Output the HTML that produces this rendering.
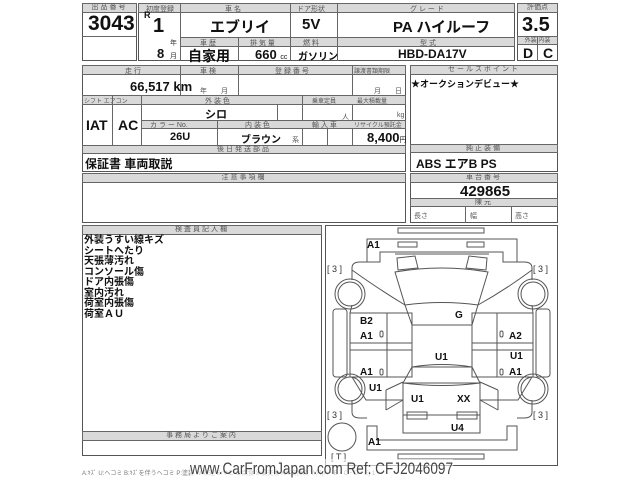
<!DOCTYPE html>
<html><head><meta charset="utf-8"><style>
body{margin:0;width:640px;height:480px;background:#fff;position:relative;overflow:hidden;font-family:"Liberation Sans","Noto Sans CJK JP",sans-serif;color:#111}
.b{position:absolute;border:1px solid #555;box-sizing:border-box}
.h{position:absolute;background:#d9d9d9;border:1px solid #666;box-sizing:border-box;font-size:7px;color:#555;text-align:center;line-height:8px;letter-spacing:2px}
.t{position:absolute;font-weight:bold;white-space:nowrap}
.l{position:absolute;background:#666}
.s{position:absolute;font-size:7px;color:#555}
</style></head><body>
<!-- top block -->
<div class="b" style="left:82px;top:3px;width:55px;height:58px"></div>
<div class="h" style="left:82px;top:3px;width:55px;height:10px">出品番号</div>
<div class="l" style="left:82px;top:36px;width:55px;height:1px"></div>
<div class="t" style="left:88px;top:12px;font-size:21px">3043</div>

<div class="b" style="left:138px;top:3px;width:377px;height:58px"></div>
<div class="h" style="left:138px;top:3px;width:377px;height:10px"></div>
<div class="s" style="left:146px;top:4px">初度登録</div>
<div class="s" style="left:225px;top:4px">車 名</div>
<div class="s" style="left:297px;top:4px">ドア形状</div>
<div class="s" style="left:410px;top:4px">グ レ ー ド</div>
<div class="h" style="left:180px;top:37px;width:335px;height:10px"></div>
<div class="s" style="left:200px;top:38px">車 歴</div>
<div class="s" style="left:250px;top:38px">排 気 量</div>
<div class="s" style="left:303px;top:38px">燃 料</div>
<div class="s" style="left:420px;top:38px">型 式</div>
<div class="l" style="left:180px;top:3px;width:1px;height:58px"></div>
<div class="l" style="left:290px;top:3px;width:1px;height:58px"></div>
<div class="l" style="left:337px;top:3px;width:1px;height:58px"></div>
<div class="l" style="left:238px;top:37px;width:1px;height:24px"></div>
<div class="t" style="left:144px;top:10px;font-size:9px">R</div>
<div class="t" style="left:153px;top:15px;font-size:20px">1</div>
<div class="s" style="left:170px;top:38px;color:#333">年</div>
<div class="t" style="left:157px;top:46px;font-size:13px">8</div>
<div class="s" style="left:170px;top:51px;color:#333">月</div>
<div class="t" style="left:210px;top:16px;font-size:15px">エブリイ</div>
<div class="t" style="left:302px;top:16px;font-size:15px">5V</div>
<div class="t" style="left:393px;top:16px;font-size:15px">PA ハイルーフ</div>
<div class="t" style="left:188px;top:46px;font-size:14px">自家用</div>
<div class="t" style="left:255px;top:47px;font-size:13px">660 <span style="font-size:7px;font-weight:normal">cc</span></div>
<div class="t" style="left:298px;top:48px;font-size:10px">ガソリン</div>
<div class="t" style="left:398px;top:47px;font-size:12px">HBD-DA17V</div>

<div class="b" style="left:517px;top:3px;width:41px;height:58px"></div>
<div class="h" style="left:517px;top:3px;width:41px;height:10px;letter-spacing:0">評価点</div>
<div class="t" style="left:522px;top:14px;font-size:20px">3.5</div>
<div class="h" style="left:517px;top:36px;width:41px;height:9px;letter-spacing:0;font-size:6px">外装 内装</div>
<div class="l" style="left:537px;top:36px;width:1px;height:25px"></div>
<div class="t" style="left:523px;top:45px;font-size:14px">D</div>
<div class="t" style="left:543px;top:45px;font-size:14px">C</div>

<!-- second block -->
<div class="b" style="left:82px;top:65px;width:324px;height:107px"></div>
<div class="h" style="left:82px;top:65px;width:324px;height:10px"></div>
<div class="s" style="left:125px;top:66px">走 行</div>
<div class="s" style="left:200px;top:66px">車 検</div>
<div class="s" style="left:275px;top:66px">登 録 番 号</div>
<div class="s" style="left:354px;top:66px;font-size:6px">譲渡書類期限</div>
<div class="l" style="left:180px;top:65px;width:1px;height:31px"></div>
<div class="l" style="left:238px;top:65px;width:1px;height:31px"></div>
<div class="l" style="left:352px;top:65px;width:1px;height:80px"></div>
<div class="t" style="left:130px;top:79px;font-size:13px">66,517 km</div>
<div class="s" style="left:200px;top:86px">年　　月</div>
<div class="s" style="left:374px;top:86px">月　　日</div>
<div class="h" style="left:82px;top:95px;width:324px;height:10px"></div>
<div class="s" style="left:84px;top:96px;font-size:6px">シフト エアコン</div>
<div class="s" style="left:205px;top:96px">外 装 色</div>
<div class="s" style="left:312px;top:96px;font-size:6px">乗車定員</div>
<div class="s" style="left:357px;top:96px;font-size:6px">最大積載量</div>
<div class="l" style="left:112px;top:95px;width:1px;height:50px"></div>
<div class="l" style="left:141px;top:95px;width:1px;height:50px"></div>
<div class="l" style="left:302px;top:95px;width:1px;height:50px"></div>
<div class="l" style="left:277px;top:105px;width:1px;height:15px"></div>
<div class="t" style="left:86px;top:117px;font-size:14px">IAT</div>
<div class="t" style="left:118px;top:117px;font-size:14px">AC</div>
<div class="t" style="left:205px;top:106px;font-size:11px">シロ</div>
<div class="s" style="left:342px;top:112px">人</div>
<div class="s" style="left:397px;top:112px">kg</div>
<div class="h" style="left:141px;top:120px;width:265px;height:9px"></div>
<div class="s" style="left:150px;top:120px">カ ラ ー No.</div>
<div class="s" style="left:245px;top:120px">内 装 色</div>
<div class="s" style="left:312px;top:120px">輸 入 車</div>
<div class="s" style="left:354px;top:120px;font-size:6px">リサイクル預託金</div>
<div class="l" style="left:217px;top:120px;width:1px;height:25px"></div>
<div class="l" style="left:327px;top:129px;width:1px;height:16px"></div>
<div class="t" style="left:170px;top:131px;font-size:11px">26U</div>
<div class="t" style="left:241px;top:131px;font-size:10px">ブラウン</div>
<div class="s" style="left:292px;top:135px">系</div>
<div class="t" style="left:367px;top:130px;font-size:13px">8,400<span style="font-size:7px;font-weight:normal">円</span></div>
<div class="h" style="left:82px;top:145px;width:324px;height:9px">後日発送部品</div>
<div class="t" style="left:85px;top:155px;font-size:12px">保証書 車両取説</div>

<div class="b" style="left:410px;top:65px;width:148px;height:107px"></div>
<div class="h" style="left:410px;top:65px;width:148px;height:10px">セールスポイント</div>
<div class="t" style="left:411px;top:77px;font-size:9px">★オークションデビュー★</div>
<div class="h" style="left:410px;top:144px;width:148px;height:9px">純正装備</div>
<div class="t" style="left:416px;top:155px;font-size:12px">ABS エアB PS</div>

<!-- third -->
<div class="b" style="left:82px;top:173px;width:324px;height:50px"></div>
<div class="h" style="left:82px;top:173px;width:324px;height:10px">注意事項欄</div>
<div class="b" style="left:410px;top:173px;width:148px;height:50px"></div>
<div class="h" style="left:410px;top:173px;width:148px;height:10px">車台番号</div>
<div class="t" style="left:460px;top:183px;font-size:15px">429865</div>
<div class="h" style="left:410px;top:198px;width:148px;height:9px">陳元</div>
<div class="l" style="left:465px;top:207px;width:1px;height:16px"></div>
<div class="l" style="left:511px;top:207px;width:1px;height:16px"></div>
<div class="s" style="left:414px;top:211px">長さ</div>
<div class="s" style="left:470px;top:211px">幅</div>
<div class="s" style="left:515px;top:211px">高さ</div>

<!-- inspector -->
<div class="b" style="left:82px;top:225px;width:240px;height:231px"></div>
<div class="h" style="left:82px;top:225px;width:240px;height:10px">検査員記入欄</div>
<div class="t" style="left:84px;top:236px;font-size:10px;line-height:10.5px">外装うすい線キズ<br>シートへたり<br>天張薄汚れ<br>コンソール傷<br>ドア内張傷<br>室内汚れ<br>荷室内張傷<br>荷室ＡＵ</div>
<div class="h" style="left:82px;top:431px;width:240px;height:10px">事務局よりご案内</div>

<!-- diagram -->
<div class="b" style="left:325px;top:225px;width:233px;height:241px"></div>
<svg style="position:absolute;left:0;top:0" width="640" height="480" fill="none" stroke="#555" stroke-width="1">
<rect x="398" y="228" width="86" height="5"/>
<rect x="398" y="454" width="86" height="5"/>
<path d="M367 239H517V262H503V252H380V262H367Z"/>
<rect x="398" y="242" width="19" height="5"/><rect x="467" y="242" width="17" height="5"/>
<path d="M395 254L489 254M397 258L415 256L418 268L398 270ZM487 258L469 256L466 268L486 270Z"/>
<path d="M395 272Q442 264 488 272L478 305Q442 300 405 305Z"/>
<path d="M405 305L412 325M478 305L472 325"/>
<rect x="412" y="325" width="60" height="42"/>
<path d="M412 367Q442 362 472 367L480 383H403Z"/>
<path d="M403 383Q442 388 480 383V433H403Z"/>
<path d="M403 415H480M407 412h20v7h-20zM457 412h20v7h-20z"/>
<path d="M367 426H377V440H507V426H517V450H367Z"/>
<path d="M350 313H412V377H350ZM472 313H533V377H472Z"/>
<path d="M350 343H412M350 350H412M472 343H533M472 350H533M387 313V377M497 313V377"/>
<path d="M352 268Q352 262 360 262H367M532 268Q532 262 524 262H517M352 268V280M532 268V280M352 305L350 313M532 305L533 313"/>
<path d="M352 270Q380 290 405 305M532 270Q505 290 478 305"/>
<path d="M352 377L366 400H403M532 377L518 400H480M352 400V412Q352 418 360 418H367M532 400V412Q532 418 524 418H517"/>
<path d="M386 390L403 382M386 410L403 400M386 390V410M498 390L480 382M498 410L480 400M498 390V410"/>
<rect x="333" y="309" width="14" height="68" rx="3"/><rect x="536" y="309" width="14" height="68" rx="3"/>
<circle cx="350" cy="294" r="15"/><circle cx="350" cy="294" r="12"/>
<circle cx="533" cy="294" r="15"/><circle cx="533" cy="294" r="12"/>
<circle cx="350" cy="389" r="15"/><circle cx="350" cy="389" r="12"/>
<circle cx="533" cy="389" r="15"/><circle cx="533" cy="389" r="12"/>
<circle cx="342" cy="437" r="14"/>
<rect x="380" y="331" width="3" height="6" rx="1.5"/><rect x="380" y="369" width="3" height="6" rx="1.5"/>
<rect x="500" y="331" width="3" height="6" rx="1.5"/><rect x="500" y="369" width="3" height="6" rx="1.5"/>
</svg>
<div class="t" style="left:367px;top:240px;font-size:10px">A1</div>
<div class="s" style="left:327px;top:264px;font-size:9px;color:#333">[ 3 ]</div>
<div class="s" style="left:533px;top:264px;font-size:9px;color:#333">[ 3 ]</div>
<div class="s" style="left:327px;top:410px;font-size:9px;color:#333">[ 3 ]</div>
<div class="s" style="left:533px;top:410px;font-size:9px;color:#333">[ 3 ]</div>
<div class="s" style="left:331px;top:452px;font-size:9px;color:#333">[ T ]</div>
<div class="t" style="left:360px;top:316px;font-size:10px">B2</div>
<div class="t" style="left:360px;top:331px;font-size:10px">A1</div>
<div class="t" style="left:455px;top:310px;font-size:10px">G</div>
<div class="t" style="left:509px;top:331px;font-size:10px">A2</div>
<div class="t" style="left:435px;top:352px;font-size:10px">U1</div>
<div class="t" style="left:510px;top:351px;font-size:10px">U1</div>
<div class="t" style="left:360px;top:367px;font-size:10px">A1</div>
<div class="t" style="left:509px;top:367px;font-size:10px">A1</div>
<div class="t" style="left:369px;top:383px;font-size:10px">U1</div>
<div class="t" style="left:411px;top:394px;font-size:10px">U1</div>
<div class="t" style="left:457px;top:394px;font-size:10px">XX</div>
<div class="t" style="left:451px;top:423px;font-size:10px">U4</div>
<div class="t" style="left:368px;top:437px;font-size:10px">A1</div>

<div class="s" style="left:82px;top:468px;font-size:6px;color:#777">A:ｷｽﾞ U:ヘコミ B:ｷｽﾞを伴うヘコミ P:塗装 W:修理 S:サビ C:腐食 X:要交換 XX:交換済 Y:穴(A・B・C・D・E) 1</div>
<div style="position:absolute;left:190px;top:459px;font-size:17px;color:#444;background:rgba(255,255,255,.6);white-space:nowrap;transform:scaleX(0.8);transform-origin:0 0">www.CarFromJapan.com Ref: CFJ2046097</div>
</body></html>
